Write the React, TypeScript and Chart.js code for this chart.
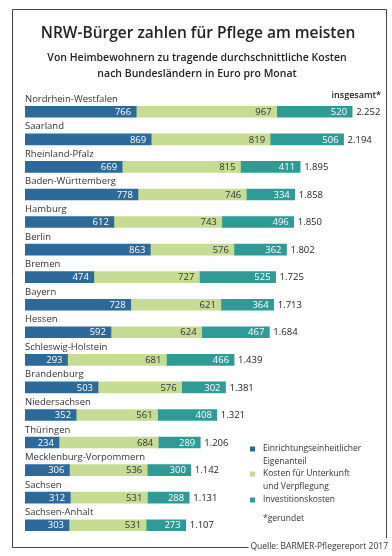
import React, { useEffect, useRef } from "react";
import { Chart, registerables } from "chart.js";

Chart.register(...registerables);

const categories = [
  "Nordrhein-Westfalen",
  "Saarland",
  "Rheinland-Pfalz",
  "Baden-Württemberg",
  "Hamburg",
  "Berlin",
  "Bremen",
  "Bayern",
  "Hessen",
  "Schleswig-Holstein",
  "Brandenburg",
  "Niedersachsen",
  "Thüringen",
  "Mecklenburg-Vorpommern",
  "Sachsen",
  "Sachsen-Anhalt",
];

const eigenanteil = [766, 869, 669, 778, 612, 863, 474, 728, 592, 293, 503, 352, 234, 306, 312, 303];
const unterkunft = [967, 819, 815, 746, 743, 576, 727, 621, 624, 681, 576, 561, 684, 536, 531, 531];
const investition = [520, 506, 411, 334, 496, 362, 525, 364, 467, 466, 302, 408, 289, 300, 288, 273];
const totals = [
  "2.252", "2.194", "1.895", "1.858", "1.850", "1.802", "1.725", "1.713",
  "1.684", "1.439", "1.381", "1.321", "1.206", "1.142", "1.131", "1.107",
];

const seriesNames = ["Einrichtungseinheitlicher Eigenanteil", "Kosten für Unterkunft und Verpflegung", "Investitionskosten"];
const legendLines = [["Einrichtungseinheitlicher", "Eigenanteil"], ["Kosten für Unterkunft", "und Verpflegung"], ["Investitionskosten"]];
const colors = ["#2d6a9a", "#c6dc94", "#2f9a96"];
const valueColors = ["#ffffff", "#333333", "#ffffff"];

const FONT = "'Open Sans', 'Noto Sans', sans-serif";

const decorPlugin = {
  id: "decor",
  beforeDraw(chart: any) {
    const ctx = chart.ctx;
    ctx.save();
    ctx.fillStyle = "#ffffff";
    ctx.fillRect(0, 0, chart.width, chart.height);
    ctx.font = `8.5px ${FONT}`;
    const srcW = ctx.measureText("Quelle: BARMER-Pflegereport 2017").width;
    // frame
    ctx.strokeStyle = "#444444";
    ctx.lineWidth = 1;
    ctx.beginPath();
    ctx.moveTo(388 - srcW - 2, 547.5);
    ctx.lineTo(12.5, 547.5);
    ctx.lineTo(12.5, 9.5);
    ctx.lineTo(386.5, 9.5);
    ctx.lineTo(386.5, 538);
    ctx.stroke();
    ctx.restore();
  },
  afterDatasetsDraw(chart: any) {
    const ctx = chart.ctx;
    ctx.save();
    // titles
    ctx.textAlign = "center";
    ctx.textBaseline = "alphabetic";
    ctx.fillStyle = "#222222";
    ctx.font = `600 15.5px ${FONT}`;
    ctx.fillText("NRW-Bürger zahlen für Pflege am meisten", 198, 38);
    ctx.font = `600 10.5px ${FONT}`;
    ctx.fillText("Von Heimbewohnern zu tragende durchschnittliche Kosten", 197, 61);
    ctx.fillText("nach Bundesländern in Euro pro Monat", 197, 77);

    ctx.textAlign = "right";
    ctx.font = `600 9px ${FONT}`;
    ctx.fillText("insgesamt*", 381, 98);

    const metas = [0, 1, 2].map((i) => chart.getDatasetMeta(i));
    // category labels
    ctx.textAlign = "left";
    ctx.font = `9.5px ${FONT}`;
    ctx.fillStyle = "#333333";
    metas[0].data.forEach((bar: any, j: number) => {
      ctx.fillText(categories[j], bar.base, bar.y - 10);
    });
    // values in segments
    ctx.font = `9.5px ${FONT}`;
    ctx.textAlign = "right";
    ctx.textBaseline = "middle";
    metas.forEach((meta: any, i: number) => {
      const ds = chart.data.datasets[i].data;
      ctx.fillStyle = valueColors[i];
      meta.data.forEach((bar: any, j: number) => {
        ctx.fillText(String(ds[j]), bar.x - 5, bar.y + 0.5);
      });
    });
    // totals
    ctx.textAlign = "left";
    ctx.fillStyle = "#222222";
    metas[2].data.forEach((bar: any, j: number) => {
      ctx.fillText(totals[j], bar.x + 4, bar.y + 0.5);
    });
    // legend
    const ly = [449, 474, 500];
    ctx.font = `8.5px ${FONT}`;
    ctx.textBaseline = "middle";
    legendLines.forEach((lines, i) => {
      ctx.fillStyle = colors[i];
      ctx.fillRect(250, ly[i] - 2.5, 5, 5);
      ctx.fillStyle = "#333333";
      lines.forEach((t, k) => ctx.fillText(t, 263, ly[i] + k * 13));
    });
    ctx.fillText("*gerundet", 263, 519);
    // source
    ctx.textAlign = "right";
    ctx.textBaseline = "alphabetic";
    ctx.fillStyle = "#333333";
    ctx.font = `8.5px ${FONT}`;
    ctx.fillText("Quelle: BARMER-Pflegereport 2017", 388, 549);
    ctx.restore();
  },
};

export default function App() {
  const ref = useRef<HTMLCanvasElement>(null);
  useEffect(() => {
    if (!ref.current) return;
    const chart = new Chart(ref.current, {
      type: "bar",
      data: {
        labels: categories,
        datasets: [eigenanteil, unterkunft, investition].map((d, i) => ({
          label: seriesNames[i],
          data: d,
          backgroundColor: colors[i],
          borderWidth: 0,
          barThickness: 11,
        })),
      },
      options: {
        indexAxis: "y",
        responsive: false,
        animation: false,
        layout: { padding: { left: 25, right: 4, top: 98, bottom: 17 } },
        scales: {
          x: { stacked: true, min: 0, max: 2500, display: false },
          y: { stacked: true, display: false },
        },
        plugins: { legend: { display: false }, title: { display: false }, tooltip: { enabled: false } },
      },
      plugins: [decorPlugin],
    });
    return () => chart.destroy();
  }, []);
  return (
    <div style={{ position: "absolute", left: 0, top: 0, width: 392, height: 556 }}>
      <canvas ref={ref} width={392} height={556} />
    </div>
  );
}
